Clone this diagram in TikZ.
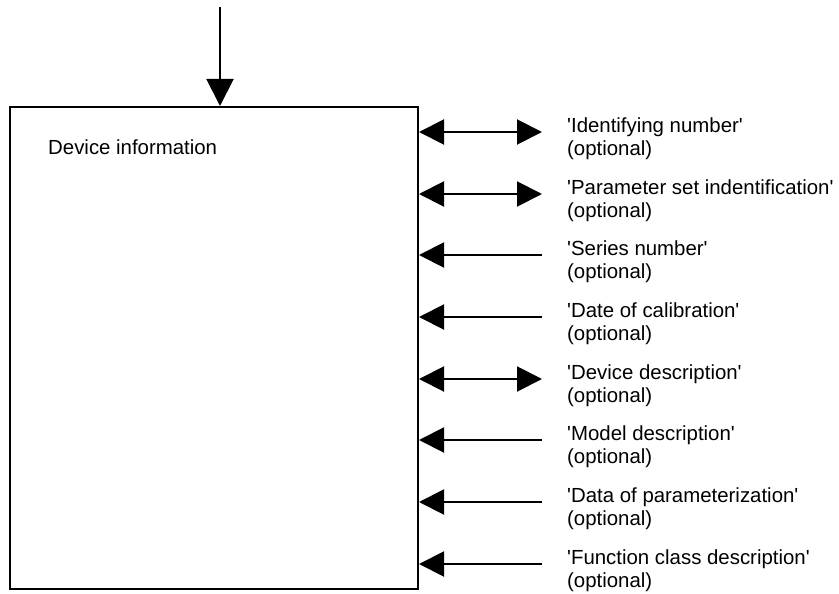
\documentclass[tikz,border=0pt]{standalone}
\usepackage{fontspec}
\newfontfamily\arial{Liberation Sans}
\usetikzlibrary{arrows.meta}
\tikzset{
  conn/.style={line width=2pt},
  bighead/.style={-{Triangle[length=25pt,width=25pt]}},
  bothhead/.style={{Triangle[length=25pt,width=25pt]}-{Triangle[length=25pt,width=25pt]}},
  lab/.style={font=\arial\fontsize{20.4}{22.5}\selectfont, align=left, anchor=north west, inner sep=0pt},
}
\begin{document}
\begin{tikzpicture}[x=1pt,y=-1pt]
\useasboundingbox (0,0) rectangle (839,594);
\node[draw, line width=2pt, minimum width=408pt, minimum height=482pt, inner sep=0pt, anchor=north west] (box) at (9,106) {};
\node[font=\arial\fontsize{20.4}{23}\selectfont, anchor=base west, inner sep=0pt] (title) at (48,154) {Device information};
\coordinate (top) at (220,7);
\draw[conn, -{Triangle[length=27pt,width=27pt]}] (top) -- (top |- box.north);
\foreach \i/\t/\s in {0/{'Identifying number'}/bothhead,
                     1/{'Parameter set indentification'}/bothhead,
                     2/{'Series number'}/bighead,
                     3/{'Date of calibration'}/bighead,
                     4/{'Device description'}/bothhead,
                     5/{'Model description'}/bighead,
                     6/{'Data of parameterization'}/bighead,
                     7/{'Function class description'}/bighead}{
  \pgfmathsetmacro{\yy}{round(132+\i*61.7)}
  \coordinate (a\i) at (542,\yy);
  \node[lab] (l\i) at (567,\yy-14) {\t\\(optional)};
  \draw[conn,\s] (a\i) -- (a\i -| box.east);
}
\end{tikzpicture}
\end{document}
